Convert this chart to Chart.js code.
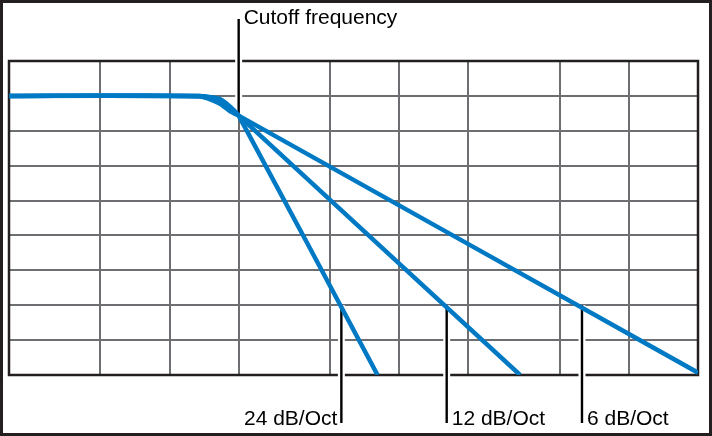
<!DOCTYPE html>
<html>
<head>
<meta charset="utf-8">
<script src="https://cdn.jsdelivr.net/npm/chart.js@4.4.1/dist/chart.umd.min.js"></script>
<style>
  html, body { margin: 0; padding: 0; background: #fff; }
  #wrap { width: 712px; height: 436px; }
</style>
</head>
<body>
<div id="wrap"><canvas id="filterChart"></canvas></div>
<script>
// frequency grid (log) and level grid (dB)
const xTicks = [2, 5, 10, 20, 50, 100, 200, 500, 1000, 2000];
const yTicks = [6, 0, -6, -12, -18, -24, -30, -36, -42, -48];

// responses
const freq6  = [2, 13.5, 16.5, 18.3, 20, 2000];
const db6    = [0, -0.1, -1.3, -2.6, -3.4, -47.6];
const freq12 = [2, 13.5, 16.5, 18.3, 20, 336];
const db12   = [0, 0, -0.9, -2.2, -3.4, -48];
const freq24 = [2, 13.5, 16.5, 18.3, 20, 80.5];
const db24   = [0, 0, -0.5, -1.8, -3.4, -48];

// annotations
const cutoffLabel = 'Cutoff frequency';
const cutoffFreq = 20;
const cutoffDb = -3.4;
const slopeLabels = ['24 dB/Oct', '12 dB/Oct', '6 dB/Oct'];
const slopeFreqs = [56, 161, 625];
const slopeDb = -36;

const blue = '#0079c4';
const ink = '#231f20';

function pts(xs, ys) {
  return xs.map((x, i) => ({ x: x, y: ys[i] }));
}

const markers = {
  id: 'markers',
  beforeDatasetsDraw(chart) {
    const ctx = chart.ctx;
    const a = chart.chartArea;
    const xs = chart.scales.x, ys = chart.scales.y;
    ctx.save();
    // plot frame
    ctx.strokeStyle = ink;
    ctx.lineWidth = 2.5;
    ctx.strokeRect(a.left, a.top, a.right - a.left, a.bottom - a.top);

    function marker(px, y1, y2) {
      ctx.lineCap = 'butt';
      ctx.strokeStyle = '#fff';
      ctx.lineWidth = 7;
      ctx.beginPath(); ctx.moveTo(px, y1); ctx.lineTo(px, y2); ctx.stroke();
      ctx.strokeStyle = '#000';
      ctx.lineWidth = 2.4;
      ctx.beginPath(); ctx.moveTo(px, y1); ctx.lineTo(px, y2); ctx.stroke();
    }

    ctx.font = '21px "Liberation Sans", Arial, sans-serif';
    ctx.fillStyle = '#000';
    ctx.textBaseline = 'alphabetic';

    const cx = xs.getPixelForValue(cutoffFreq);
    marker(cx, 19, ys.getPixelForValue(cutoffDb));
    ctx.textAlign = 'left';
    ctx.fillText(cutoffLabel, cx + 5, 24);

    slopeFreqs.forEach((f, i) => {
      const px = xs.getPixelForValue(f);
      marker(px, ys.getPixelForValue(slopeDb), 423);
      if (i === 0) {
        ctx.textAlign = 'right';
        ctx.fillText(slopeLabels[i], px - 4, 425);
      } else {
        ctx.textAlign = 'left';
        ctx.fillText(slopeLabels[i], px + 5, 425);
      }
    });
    ctx.restore();
  },
  afterDraw(chart) {
    const ctx = chart.ctx;
    ctx.save();
    ctx.strokeStyle = ink;
    ctx.lineWidth = 3;
    ctx.strokeRect(1.5, 1.5, chart.width - 3, chart.height - 3);
    ctx.restore();
  }
};

function series(xs, ys) {
  return {
    data: pts(xs, ys),
    borderColor: blue,
    borderWidth: 4.5,
    pointRadius: 0,
    tension: 0.2,
    fill: false
  };
}

const config = {
  type: 'line',
  data: {
    datasets: [series(freq6, db6), series(freq12, db12), series(freq24, db24)]
  },
  options: {
    responsive: true,
    maintainAspectRatio: false,
    animation: false,
    layout: { padding: { left: 9, right: 14, top: 61, bottom: 61 } },
    plugins: { legend: { display: false }, tooltip: { enabled: false } },
    scales: {
      x: {
        type: 'logarithmic',
        min: 2,
        max: 2000,
        afterBuildTicks: (axis) => { axis.ticks = xTicks.map(v => ({ value: v })); },
        ticks: { display: false },
        grid: { color: '#6d6e71', lineWidth: 2, drawTicks: false, tickLength: 0 },
        border: { display: false }
      },
      y: {
        type: 'linear',
        min: -48,
        max: 6,
        afterBuildTicks: (axis) => { axis.ticks = yTicks.map(v => ({ value: v })); },
        ticks: { display: false },
        grid: { color: '#6d6e71', lineWidth: 2, drawTicks: false, tickLength: 0 },
        border: { display: false }
      }
    }
  },
  plugins: [markers]
};

const myChart = new Chart(document.getElementById('filterChart'), config);
</script>
</body>
</html>
